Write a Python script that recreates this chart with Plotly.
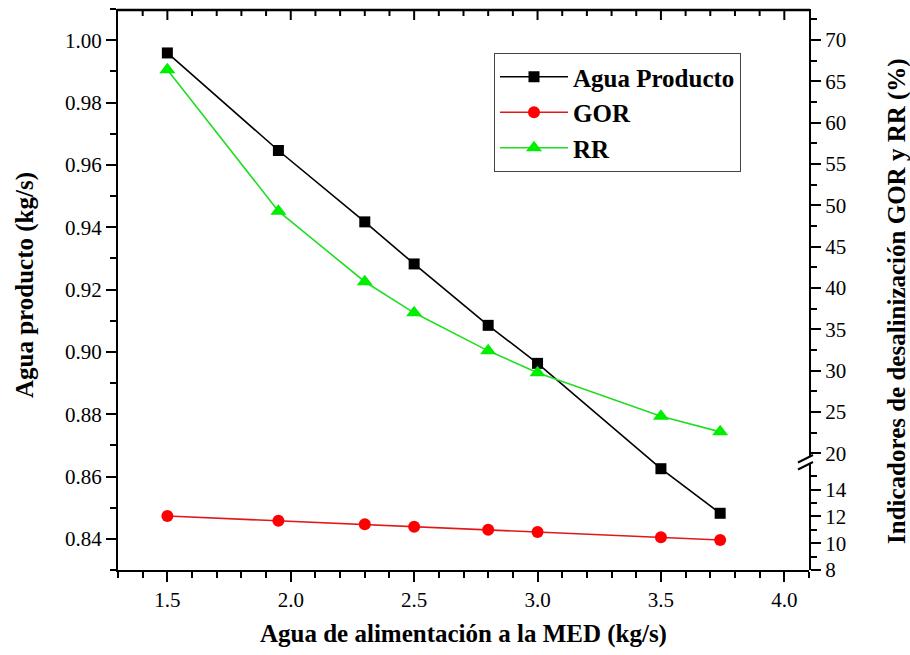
import plotly.graph_objects as go

# Feed water to the MED unit (kg/s)
feed = [1.5, 1.95, 2.3, 2.5, 2.8, 3.0, 3.5, 3.74]
# Product water (kg/s) - left axis
product_water = [0.9959, 0.9646, 0.9417, 0.9282, 0.9085, 0.8963, 0.8625, 0.8482]
# Gain output ratio - lower segment of the broken right axis
gor = [12.03, 11.68, 11.41, 11.23, 11.01, 10.84, 10.44, 10.24]
# Recovery ratio (%) - upper segment of the broken right axis
rr = [66.4, 49.3, 40.76, 37.0, 32.4, 29.76, 24.5, 22.6]

series_names = ["Agua Producto", "GOR", "RR"]
x_title = "Agua de alimentación a la MED (kg/s)"
y_left_title = "Agua producto (kg/s)"
y_right_title = "Indicadores de desalinización GOR y RR (%)"

W, H = 910, 655
ML, MR, MT, MB = 118, 101, 9, 85
PW, PH = W - ML - MR, H - MT - MB


def xp(px):
    return (px - ML) / PW


def yp(py):
    return (H - MB - py) / PH


# Broken right axis: upper segment (RR) ends at y=457 px, lower (GOR) starts at 464 px
upper_bottom_px, lower_top_px = 457, 464
upper_domain = [yp(upper_bottom_px), 1.0]
lower_domain = [0.0, yp(lower_top_px)]
x_range = [1.3, 4.1]
x_major, x_minor = 0.5, 0.1

FONT = "Liberation Serif"
tick_font = dict(family=FONT, size=21, color="black")
title_font = dict(family=FONT, size=25, color="black", weight="bold")

fig = go.Figure()
fig.add_trace(go.Scatter(
    x=feed, y=product_water, name=series_names[0], mode="lines+markers",
    line=dict(color="black", width=1.6),
    marker=dict(symbol="square", size=11, color="black"),
    xaxis="x", yaxis="y"))
fig.add_trace(go.Scatter(
    x=feed, y=gor, name=series_names[1], mode="lines+markers",
    line=dict(color="#e01818", width=1.6),
    marker=dict(symbol="circle", size=12, color="#ff0000"),
    xaxis="x", yaxis="y3"))
fig.add_trace(go.Scatter(
    x=feed, y=rr, name=series_names[2], mode="lines+markers",
    line=dict(color="#22dd22", width=1.6),
    marker=dict(symbol="triangle-up", size=14, color="#00ee00"),
    xaxis="x", yaxis="y2"))

axis_common = dict(showline=True, linewidth=2, linecolor="black", showgrid=False,
                   zeroline=False, tickwidth=2, tickcolor="black", ticklen=10,
                   tickfont=tick_font)


def minor(dtick, ticks="outside"):
    return dict(dtick=dtick, ticks=ticks, ticklen=6, tickwidth=2,
                tickcolor="black", showgrid=False)


fig.update_layout(
    width=W, height=H, autosize=False,
    margin=dict(l=ML, r=MR, t=MT, b=MB, pad=0),
    paper_bgcolor="white", plot_bgcolor="rgba(0,0,0,0)",
    font=dict(family=FONT, color="black"),
    showlegend=True,
    legend=dict(x=xp(494), y=yp(53), xanchor="left", yanchor="top",
                bgcolor="white", bordercolor="#444", borderwidth=1,
                font=dict(family=FONT, size=25, color="black", weight="bold"),
                itemwidth=68, tracegroupgap=0),
    xaxis=dict(axis_common, range=x_range, tick0=1.5, dtick=x_major,
               tickformat=".1f", ticks="outside", minor=minor(x_minor),
               anchor="y", domain=[0, 1], ticklabelstandoff=0),
    yaxis=dict(axis_common, range=[0.83, 1.01], tick0=0.84, dtick=0.02,
               tickformat=".2f", ticks="outside", minor=minor(0.01),
               anchor="x", side="left", domain=[0, 1]),
    yaxis2=dict(axis_common, range=[19.56, 73.75], tick0=20, dtick=5,
                ticks="outside", minor=minor(2.5), anchor="x", side="right",
                domain=upper_domain),
    yaxis3=dict(axis_common, range=[8, 15.91], tick0=8, dtick=2,
                ticks="outside", minor=minor(1), anchor="x", side="right",
                domain=lower_domain),
)

# Top frame line (drawn just inside the plot edge) with inward-pointing ticks
top_y = 1 - 1.0 / PH
fig.add_shape(type="line", xref="paper", yref="paper", x0=xp(ML - 1), x1=xp(ML + PW + 1),
              y0=top_y, y1=top_y, layer="above",
              line=dict(color="black", width=2.5))
n_steps = int(round((x_range[1] - x_range[0]) / x_minor))
for i in range(1, n_steps):
    xv = round(x_range[0] + i * x_minor, 2)
    is_major = abs(xv / x_major - round(xv / x_major)) < 1e-6
    tlen = 10 if is_major else 6
    fig.add_shape(type="line", xref="x", yref="paper", x0=xv, x1=xv,
                  y0=top_y, y1=top_y - tlen / PH, layer="above",
                  line=dict(color="black", width=2))

# Axis titles
fig.add_annotation(text=x_title, xref="paper", yref="paper", x=0.5, y=yp(634),
                   xanchor="center", yanchor="middle", showarrow=False,
                   font=title_font)
fig.add_annotation(text=y_left_title, xref="paper", yref="paper", x=xp(25),
                   y=yp(285), xanchor="center", yanchor="middle", textangle=-90,
                   showarrow=False, font=title_font)
fig.add_annotation(text=y_right_title, xref="paper", yref="paper", x=xp(897),
                   y=yp(301), xanchor="center", yanchor="middle", textangle=-90,
                   showarrow=False, font=title_font)

# Break marks on the right axis
axis_x = ML + PW
for yc in (upper_bottom_px, lower_top_px):
    fig.add_shape(type="line", xref="paper", yref="paper",
                  x0=xp(axis_x - 11), y0=yp(yc + 5.5),
                  x1=xp(axis_x + 4), y1=yp(yc - 2),
                  line=dict(color="black", width=2))

fig.write_html("out.html")
